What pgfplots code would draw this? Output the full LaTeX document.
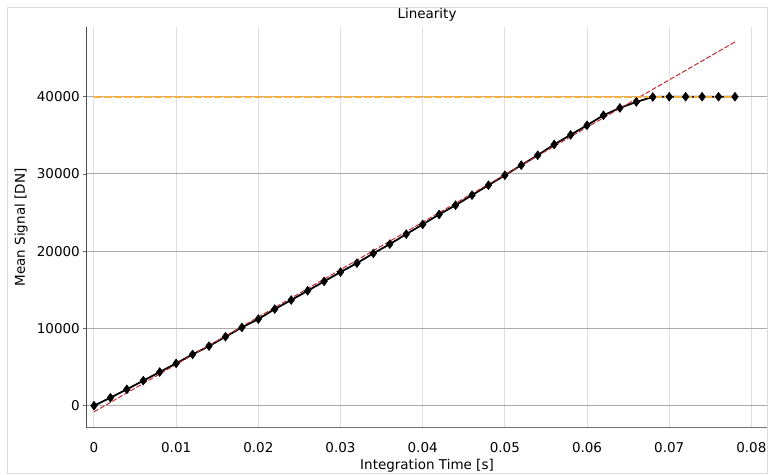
\documentclass[border=0pt]{standalone}
\usepackage{fontspec}
\setmainfont{DejaVu Sans}
\usepackage{pgfplots}
\usepackage{pgfplotstable}
\pgfplotsset{compat=1.18}
\definecolor{fitred}{HTML}{C42A32}
\definecolor{satorange}{HTML}{F5B040}
\definecolor{hgrid}{HTML}{ABABAB}
\definecolor{vgrid}{HTML}{E0E0E0}
\definecolor{framegray}{HTML}{DADADA}
\newcommand\ff{\fontsize{13.5bp}{16bp}\selectfont}

\pgfplotstableread{
x y
0.000 0
0.002 1035
0.004 2120
0.006 3240
0.008 4360
0.010 5480
0.012 6640
0.014 7720
0.016 8930
0.018 10140
0.020 11216
0.022 12510
0.024 13680
0.026 14880
0.028 16090
0.030 17300
0.032 18460
0.034 19720
0.036 20920
0.038 22210
0.040 23470
0.042 24760
0.044 25960
0.046 27260
0.048 28550
0.050 29840
0.052 31140
0.054 32430
0.056 33820
0.058 35060
0.060 36310
0.062 37600
0.064 38550
0.066 39330
0.068 39970
0.070 40000
0.072 40000
0.074 40000
0.076 40000
0.078 40000
}\meas

\begin{document}
\begin{tikzpicture}[x=1bp,y=1bp]
\path[use as bounding box] (-87,-47) rectangle (682,428);
\draw[framegray, line width=1bp] (-79,420.5) rectangle (680,-46);
\begin{axis}[
  at={(0,0)}, anchor=south west,
  scale only axis, width=680bp, height=401bp,
  xmin=-0.00085, xmax=0.0819,
  ymin=-2885, ymax=49030,
  axis x line*=bottom, axis y line*=left,
  x axis line style={draw=black!55, line width=1bp},
  y axis line style={draw=black!70, line width=1bp},
  xtick={0,0.01,0.02,0.03,0.04,0.05,0.06,0.07,0.08},
  ytick={0,10000,20000,30000,40000},
  scaled x ticks=false, scaled y ticks=false,
  xticklabel style={/pgf/number format/fixed, /pgf/number format/precision=2, font=\ff, anchor=base, inner sep=0pt, yshift=-20.7bp},
  yticklabel style={/pgf/number format/fixed, /pgf/number format/set thousands separator={}, font=\ff, anchor=east, inner sep=0pt, xshift=-3bp},
  /pgf/number format/assume math mode=true,
  tick align=outside, major tick length=4bp,
  xtick style={draw=none},
  ytick style={draw=black!60, line width=0.8bp},
  xmajorgrids, ymajorgrids,
  x grid style={vgrid, line width=1bp},
  y grid style={hgrid, line width=1bp},
  title={Linearity},
  title style={font=\ff, at={(axis description cs:0.5,1)}, anchor=base, yshift=3bp},
  xlabel={Integration Time [s]},
  xlabel style={font=\ff, at={(axis description cs:0.5,0)}, anchor=base, yshift=-41.5bp},
  ylabel={Mean Signal [DN]},
  ylabel style={font=\ff, at={(axis description cs:0,0.5)}, anchor=base, yshift=62bp},
]
\addplot[black, line width=1.8bp, mark=none] table[x=x,y=y] {\meas};
\addplot[fitred, line width=1bp, dash pattern=on 5bp off 2bp, mark=none] coordinates {(0,-800) (0.078,47092)};
\addplot[only marks, mark=diamond*, mark size=4.5bp, black] table[x=x,y=y] {\meas};
\addplot[satorange, line width=1.6bp, dash pattern=on 8bp off 2bp, mark=none] coordinates {(0,40000) (0.078,40000)};
\end{axis}
\end{tikzpicture}
\end{document}
